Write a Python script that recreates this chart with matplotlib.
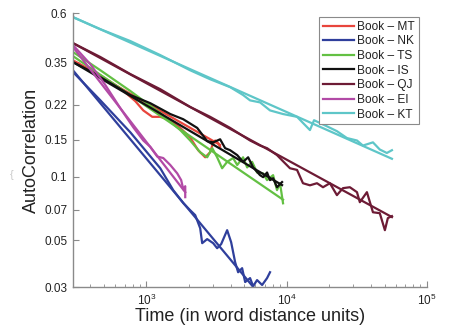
import matplotlib
matplotlib.use("Agg")
import matplotlib.pyplot as plt
from matplotlib.ticker import FixedLocator, FixedFormatter, LogLocator, LogFormatterMathtext, NullLocator

plt.rcParams['font.family'] = ['Liberation Sans', 'DejaVu Sans']
plt.rcParams['mathtext.fontset'] = 'custom'
plt.rcParams['mathtext.rm'] = 'Liberation Sans'
plt.rcParams['mathtext.it'] = 'Liberation Sans'
plt.rcParams['mathtext.default'] = 'regular'

labels = ["Book \u2013 MT", "Book \u2013 NK", "Book \u2013 TS", "Book \u2013 IS",
          "Book \u2013 QJ", "Book \u2013 EI", "Book \u2013 KT"]
colors = ["#e8453c", "#2f3f9c", "#63c043", "#111111", "#6d1b35", "#b24aa6", "#5ec6c8"]

# ---- data curves ----
mt_x = [300, 471, 653, 835, 952, 1103, 1258, 1482, 1746, 2056, 2343, 2630, 2853, 2953, 3098, 3251, 3361]
mt_y = [0.358, 0.304, 0.264, 0.229, 0.207, 0.193, 0.193, 0.186, 0.171, 0.154, 0.134, 0.124, 0.131, 0.141, 0.149, 0.145, 0.139]

nk_x = [300, 471, 769, 1258, 1556, 1834, 2056, 2232, 2422, 2503, 2717, 2998, 3200, 3418, 3771, 4027, 4299,
        4515, 4822, 5068, 5494, 5776, 6163, 6696, 7261, 7624]
nk_y = [0.315, 0.231, 0.163, 0.110, 0.0866, 0.0752, 0.0695, 0.0659, 0.0571, 0.0485, 0.0507, 0.0485, 0.0459,
        0.0480, 0.0559, 0.0490, 0.0394, 0.0353, 0.0369, 0.0317, 0.0331, 0.0303, 0.0324, 0.0307, 0.0331, 0.0353]

ts_x = [300, 471, 769, 1258, 1746, 2056, 2422, 2717, 2953, 3200, 3473, 3771, 4157, 4448, 4898, 5238, 5680,
        6163, 6809, 7261, 8017, 8550, 8981, 9440]
ts_y = [0.392, 0.321, 0.256, 0.201, 0.167, 0.149, 0.131, 0.124, 0.137, 0.124, 0.110, 0.118, 0.123, 0.114,
        0.124, 0.111, 0.118, 0.105, 0.104, 0.0966, 0.102, 0.0866, 0.0934, 0.075]

is_x = [300, 399, 555, 769, 1068, 1482, 1834, 2306, 2717, 2998, 3361, 3648, 3959, 4448, 4898, 5322, 5775,
        6472, 6809, 7261, 7624, 8017, 8550, 9290]
is_y = [0.351, 0.318, 0.279, 0.245, 0.224, 0.199, 0.188, 0.171, 0.148, 0.146, 0.151, 0.137, 0.134, 0.127,
        0.118, 0.124, 0.111, 0.102, 0.0998, 0.105, 0.0966, 0.0987, 0.0894, 0.0946]

qj_x = [300, 471, 769, 1258, 2056, 2853, 3959, 5494, 6472, 7261, 8550, 9290, 10580, 11880, 13090, 14680,
        16480, 18190, 20370, 22860, 25240, 28270, 31770, 33300, 37400, 41300, 46210, 50240, 52740, 56400]
qj_y = [0.432, 0.371, 0.308, 0.261, 0.215, 0.193, 0.171, 0.149, 0.141, 0.137, 0.127, 0.120, 0.110, 0.108,
        0.0934, 0.0913, 0.0934, 0.0894, 0.0934, 0.0820, 0.0885, 0.0894, 0.0847, 0.0759, 0.0847, 0.0680,
        0.0673, 0.0559, 0.0638, 0.0652]

ei_x = [300, 399, 511, 653, 808, 952, 1068, 1197, 1321, 1482, 1662, 1773, 1834, 1895, 1895]
ei_y = [0.423, 0.343, 0.273, 0.212, 0.172, 0.149, 0.139, 0.125, 0.123, 0.114, 0.104, 0.0966, 0.0875, 0.0904, 0.0802]

kt_x = [300, 471, 769, 1258, 2056, 2853, 3959, 4898, 5494, 6472, 7624, 9440, 11880, 14680, 15700, 19410,
        22860, 26980, 31770, 35020, 41300, 46210, 51880, 56400]
kt_y = [0.574, 0.503, 0.442, 0.379, 0.321, 0.291, 0.267, 0.245, 0.231, 0.226, 0.207, 0.199, 0.193, 0.167,
        0.186, 0.174, 0.165, 0.153, 0.149, 0.141, 0.146, 0.135, 0.130, 0.134]

# ---- power-law fits (endpoints) ----
fit_x = [[300, 3361], [300, 7000], [300, 9440], [300, 9290], [300, 56400], [300, 1895], [300, 56400]]
fit_y = [[0.355, 0.142], [0.321, 0.0258], [0.375, 0.078], [0.351, 0.0915], [0.432, 0.0645],
         [0.414, 0.0847], [0.574, 0.122]]

data_x = [mt_x, nk_x, ts_x, is_x, qj_x, ei_x, kt_x]
data_y = [mt_y, nk_y, ts_y, is_y, qj_y, ei_y, kt_y]

yticks = [0.03, 0.05, 0.07, 0.1, 0.15, 0.22, 0.35, 0.6]
ytick_labels = ["0.03", "0.05", "0.07", "0.1", "0.15", "0.22", "0.35", "0.6"]

fig = plt.figure(figsize=(4.56, 3.27), dpi=100)
ax = fig.add_axes([0.160, 0.122, 0.776, 0.838])

handles = []
for i in range(len(labels)):
    h, = ax.plot(data_x[i], data_y[i], color=colors[i], lw=1.6, label=labels[i], solid_joinstyle='round')
    ax.plot(fit_x[i], fit_y[i], color=colors[i], lw=1.6)
    handles.append(h)

ax.set_xscale('log')
ax.set_yscale('log')
ax.set_xlim(300, 1e5)
ax.set_ylim(0.03, 0.6)

ax.yaxis.set_major_locator(FixedLocator(yticks))
ax.yaxis.set_major_formatter(FixedFormatter(ytick_labels))
ax.yaxis.set_minor_locator(NullLocator())
ax.xaxis.set_major_locator(LogLocator(base=10))
ax.xaxis.set_major_formatter(LogFormatterMathtext())
ax.xaxis.set_minor_locator(LogLocator(base=10, subs=range(2, 10)))

for s in ['top', 'right']:
    ax.spines[s].set_visible(False)
for s in ['left', 'bottom']:
    ax.spines[s].set_color('#8a8a8a')
    ax.spines[s].set_linewidth(1.0)

ax.tick_params(which='both', direction='in', color='#8a8a8a', labelcolor='#222222', labelsize=8.5)
ax.tick_params(which='major', length=4, width=0.8, pad=4)
ax.tick_params(which='minor', length=2.5, width=0.6)

ax.set_xlabel("Time (in word distance units)", fontsize=13, color='#222222', labelpad=0)
ax.set_ylabel("AutoCorrelation", fontsize=13, color='#222222', labelpad=3)

leg = ax.legend(handles=handles, loc='upper right', bbox_to_anchor=(0.977, 0.985),
                bbox_transform=ax.transAxes, borderaxespad=0, fontsize=8.6,
                fancybox=False, framealpha=1, edgecolor='#8a8a8a', handlelength=2.6,
                handletextpad=0.3, labelspacing=0.22, borderpad=0.3)
leg.get_frame().set_linewidth(0.8)
for t in leg.get_texts():
    t.set_color('#222222')

fig.text(0.022, 0.455, "{", color='#c8c8c8', fontsize=8)

fig.savefig("out.png", dpi=100)
